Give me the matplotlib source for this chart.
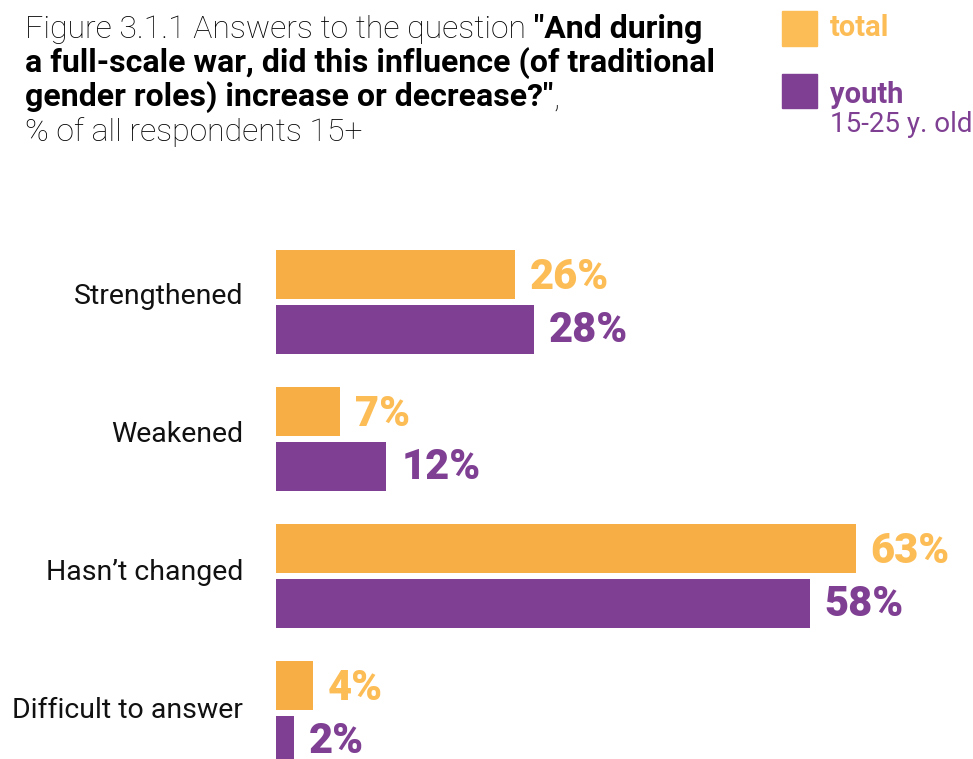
import matplotlib
matplotlib.use('Agg')
from matplotlib import pyplot as plt
import numpy as np

categories = ['Strengthened', 'Weakened', 'Hasn\u2019t changed', 'Difficult to answer']
total = [26, 7, 63, 4]
youth = [28, 12, 58, 2]

orange = '#F7AE44'
orange_txt = '#FDBD56'
purple = '#7F3F93'

plt.rcParams['font.family'] = ['Roboto', 'DejaVu Sans']

W, H = 973, 759
fig = plt.figure(figsize=(W / 100, H / 100), dpi=100)

# bar axes: x from px 276 to right edge, y from px 200 to bottom
ax = fig.add_axes([276 / W, 0, 1 - 276 / W, 559 / H])
y = np.arange(len(categories))
ax.barh(y - 0.2, total, height=0.36, color=orange)
ax.barh(y + 0.2, youth, height=0.36, color=purple)
ax.set_xlim(0, 697 / 9.206)
ax.set_ylim(3.335, -0.745)
ax.axis('off')

for i, v in enumerate(total):
    ax.text(v + 1.6, i - 0.18, f'{v}%', color=orange_txt, fontsize=30,
            fontweight='black', va='center', ha='left')
for i, v in enumerate(youth):
    ax.text(v + 1.6, i + 0.21, f'{v}%', color=purple, fontsize=30,
            fontweight='black', va='center', ha='left')
for i, c in enumerate(categories):
    fig.text(243 / W, 1 - (297 + i * 138) / H, c, fontsize=20.5,
             ha='right', va='center', color='#111111')


def line(parts, x_px, base_px, size=23):
    prev = None
    for txt, weight in parts:
        if prev is None:
            prev = fig.text(x_px / W, 1 - base_px / H, txt, fontsize=size,
                            fontweight=weight, va='baseline', ha='left',
                            color='black')
        else:
            prev = ax.annotate(txt, xy=(1, 0), xycoords=prev, fontsize=size,
                               fontweight=weight, va='bottom', ha='left',
                               color='black', annotation_clip=False)


line([('Figure 3.1.1 Answers to the question', 'light'),
      (' "And during', 'bold')], 25, 38)
line([('a full-scale war, did this influence (of traditional', 'bold')], 25, 72)
line([('gender roles) increase or decrease?"', 'bold'), (',', 'light')], 25, 106)
line([('% of all respondents 15+', 'light')], 25, 141)

# legend
fig.patches.append(plt.Rectangle((782 / W, 1 - 46 / H), 35 / W, 35 / H,
                                 transform=fig.transFigure, color=orange_txt))
fig.patches.append(plt.Rectangle((782 / W, 1 - 108 / H), 35 / W, 34 / H,
                                 transform=fig.transFigure, color=purple))
fig.text(830 / W, 1 - 28 / H, 'total', fontsize=21, fontweight='bold',
         color=orange_txt, va='center', ha='left')
fig.text(830 / W, 1 - 95 / H, 'youth', fontsize=21, fontweight='bold',
         color=purple, va='center', ha='left')
fig.text(830 / W, 1 - 125 / H, '15-25 y. old', fontsize=20, fontweight='normal',
         color=purple, va='center', ha='left')

fig.savefig('out.png', dpi=100)
